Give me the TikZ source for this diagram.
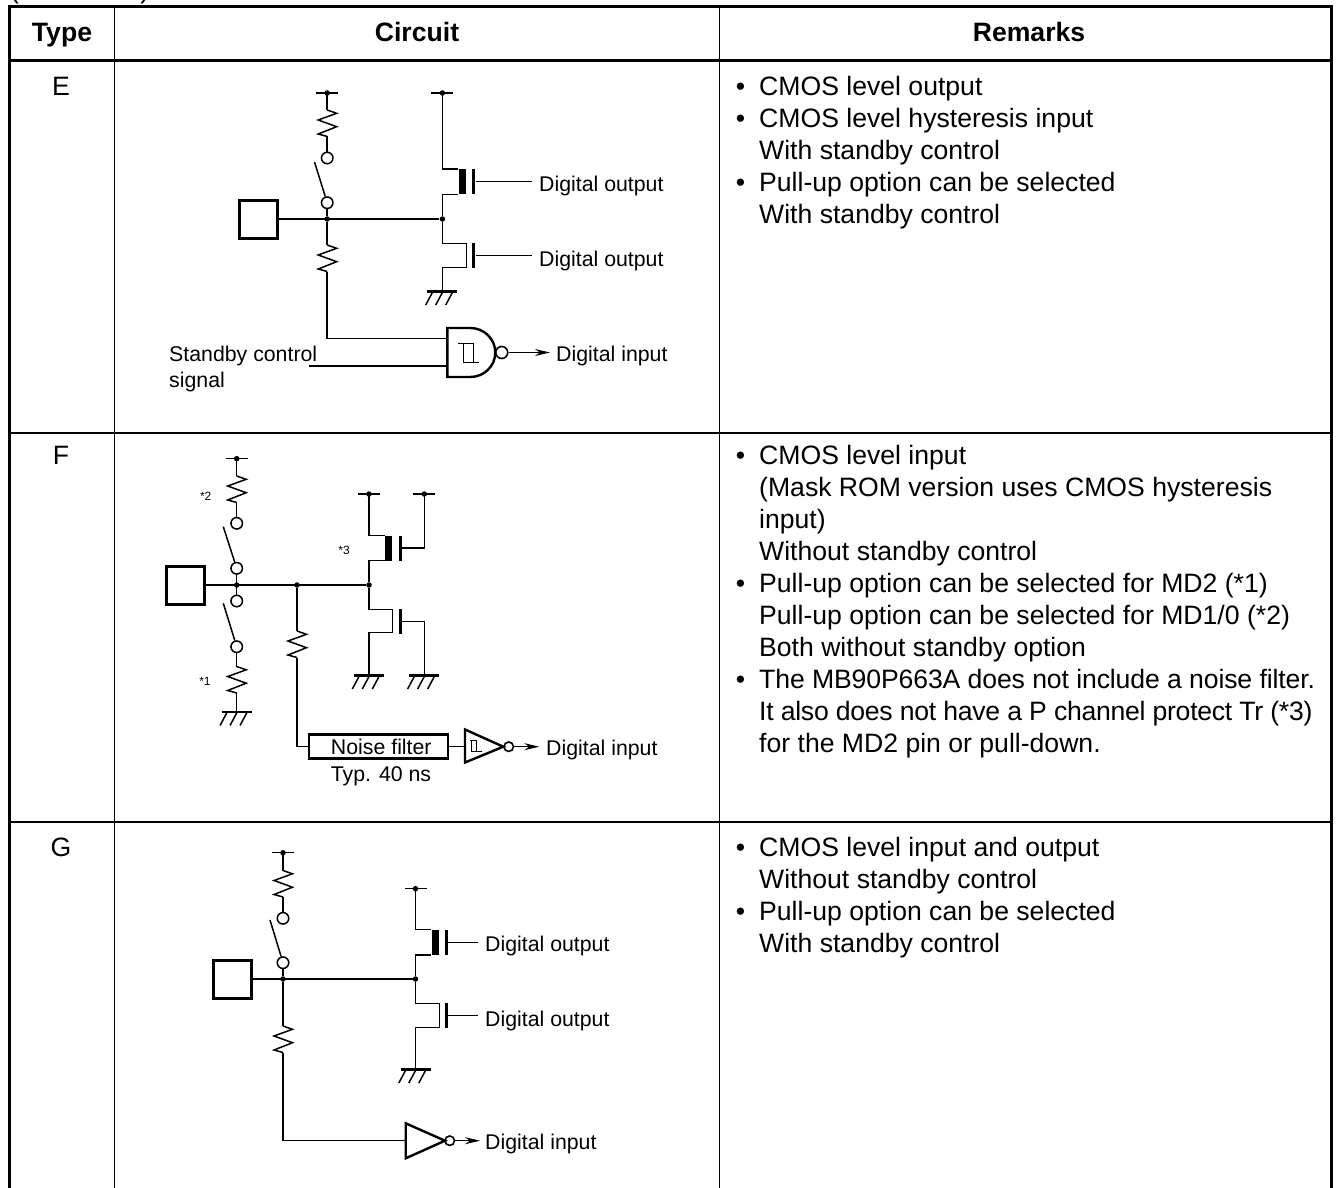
\documentclass[tikz,border=0pt]{standalone}
\usepackage{fontspec}
\setmainfont{Liberation Sans}
\usetikzlibrary{arrows.meta, calc}

\begin{document}
\begin{tikzpicture}[
  x=1pt, y=-1pt,
  frame/.style={line width=3pt, black},
  rule/.style={line width=1.3pt, black},
  wire/.style={line width=1.5pt, line join=miter},
  head/.style={font=\fontsize{26.6}{32}\selectfont\bfseries, anchor=base, inner sep=0pt},
  txt/.style={font=\fontsize{26.6}{32}\selectfont},
  remark/.style={font=\fontsize{26.6}{32}\selectfont, anchor=north west, align=left, inner sep=0pt},
  lab/.style={font=\fontsize{21.3}{26}\selectfont, anchor=base west, inner sep=0pt},
  tiny/.style={font=\fontsize{12}{14}\selectfont, inner sep=0pt},
  pad/.style={rectangle, draw, line width=3pt, fill=white, inner sep=0pt, minimum width=38pt, minimum height=38pt},
  dot/.style={circle, fill=black, inner sep=0pt, minimum size=5.5pt},
  contact/.style={circle, draw, line width=1.5pt, fill=white, inner sep=0pt, minimum size=11.5pt},
  bubble/.style={circle, draw, line width=1.6pt, fill=white, inner sep=0pt, minimum size=#1},
  chan/.style={rectangle, fill=black, inner sep=0pt, minimum width=7.4pt, minimum height=25pt},
  gatebar/.style={rectangle, fill=black, inner sep=0pt, minimum width=3pt, minimum height=25pt},
  gatebody/.style={line width=2.4pt, line join=miter, fill=white},
  filterbox/.style={rectangle, draw, line width=2.6pt, inner sep=0pt, minimum width=139pt, minimum height=24pt, font=\fontsize{21.3}{26}\selectfont},
  arrow/.style={-{Stealth[length=15pt, width=7pt]}, line width=1.5pt},
  pics/resistor/.style={code={
    \draw[wire] (0,0) -- (9.5,3.3) -- (-9,10) -- (9.5,16.7) -- (-9,24) -- (0,26.5);
    \coordinate (-top) at (0,0);
    \coordinate (-bot) at (0,26.5);
  }},
  pics/gnd/.style={code={
    \draw[line width=2.5pt] (-15,0) -- (15,0);
    \draw[wire] (-10,1) -- (-16.7,13.5) (0,1) -- (-6.7,13.5) (10,1) -- (3.3,13.5);
    \coordinate (-top) at (0,0);
  }},
  pics/rail/.style={code={
    \draw[wire] (-11,0) -- (11,0);
    \node[dot] at (0,0) {};
    \coordinate (-pin) at (0,0);
  }}
]
  \useasboundingbox (0,0) rectangle (1338,1188);

  % Table
  \node[txt, anchor=base west, inner sep=0pt] (cont) at (10,-1.5) {(Continued)};
  \coordinate (tl) at (9,7);
  \coordinate (tr) at (1331,7);
  \coordinate (bl) at (9,1188);
  \coordinate (br) at (1331,1188);
  \draw[frame] (bl) -- (tl) -- (tr) -- (br);
  \draw[frame] (9,60.5) -- (1331,60.5);
  \draw[rule] (114.5,7) -- (114.5,1188);
  \draw[rule] (719.5,7) -- (719.5,1188);
  \draw[rule] (9,433) -- (1331,433);
  \draw[rule] (9,822) -- (1331,822);

  \node[head] (htype) at (62,41.5) {Type};
  \node[head] (hcirc) at (417,41.5) {Circuit};
  \node[head] (hrem) at (1029,41.5) {Remarks};
  \node[txt] (te) at (61,86) {E};
  \node[txt] (tf) at (61,455) {F};
  \node[txt] (tg) at (61,847) {G};

  % Remarks
  \node[remark] (re) at (759,76) {\llap{•\hspace{14pt}}CMOS level output\\
    \llap{•\hspace{14pt}}CMOS level hysteresis input\\
    With standby control\\
    \llap{•\hspace{14pt}}Pull-up option can be selected\\
    With standby control};
  \node[remark] (rf) at (759,445) {\llap{•\hspace{14pt}}CMOS level input\\
    (Mask ROM version uses CMOS hysteresis\\
    input)\\
    Without standby control\\
    \llap{•\hspace{14pt}}Pull-up option can be selected for MD2 (*1)\\
    Pull-up option can be selected for MD1/0 (*2)\\
    Both without standby option\\
    \llap{•\hspace{14pt}}{\addfontfeature{LetterSpace=-0.45}The MB90P663A does not include a noise filter.}\\
    {\addfontfeature{LetterSpace=-1.05}It also does not have a P channel protect Tr (*3)}\\
    for the MD2 pin or pull-down.};
  \node[remark] (rg) at (759,837) {\llap{•\hspace{14pt}}CMOS level input and output\\
    Without standby control\\
    \llap{•\hspace{14pt}}Pull-up option can be selected\\
    With standby control};

  % Type E
  \pic (evdda) at (327.2,93) {rail};
  \pic (evddb) at (442.4,93) {rail};
  \pic (era) at (327.2,110) {resistor};
  \pic (erb) at (327.2,245) {resistor};
  \pic (egnd) at (442.4,291.5) {gnd};
  \node[pad] (epad) at (258.8,219) {};
  \node[contact] (eca) at (327.2,158) {};
  \node[contact] (ecb) at (327.2,202.7) {};
  \node[dot] (eja) at (327.2,219) {};
  \node[dot] (ejb) at (442.4,219) {};
  \coordinate (esw) at (314.5,162);
  \node[chan] (echan) at (462.3,181.7) {};
  \node[gatebar] (egp) at (473.8,181.7) {};
  \node[gatebar] (egn) at (473.8,255.3) {};
  \coordinate (enu) at (466.6,243.3);
  \coordinate (enl) at (466.6,267.3);
  \node[lab] (eout) at (539,191) {Digital output};
  \node[lab] (eoutb) at (539,266) {Digital output};
  \node[lab] (ein) at (556,361) {Digital input};
  \node[lab, align=left, anchor=north west] (estb) at (169,346) {Standby control\\signal};
  \coordinate (estbw) at (309.3,366);
  \coordinate (egi) at (447.3,338.3);
  \coordinate (egj) at (447.3,366);
  \coordinate (egt) at (447.3,328);
  \coordinate (egb) at (447.3,377);
  \coordinate (ego) at (495.5,352.5);
  \node[bubble=12pt] (ebub) at (501.7,352.5) {};
  \coordinate (earr) at (550,352.5);

  \draw[wire] (epad) -- (ejb);
  \draw[wire] (evdda-pin) -- (era-top);
  \draw[wire] (era-bot) -- (eca);
  \draw[wire] (esw) -- (ecb);
  \draw[wire] (ecb) -- (eja);
  \draw[wire] (eja) -- (erb-top);
  \draw[wire] (erb-bot) |- (egi);
  \draw[wire] (estbw) -- (egj);
  \draw[wire] (evddb-pin) |- (echan.north west);
  \draw[wire] (echan.south west) -| (ejb);
  \draw[wire] (ejb) |- (enu) -- (enl) -| (egnd-top);
  \draw[wire] (egp) -- ($(eout.base west)+(-7,-9.3)$);
  \draw[wire] (egn) -- ($(eoutb.base west)+(-7,-10.7)$);
  \draw[gatebody] (egb) -- (egt) -- ++(23,0) arc[start angle=-90, end angle=90, x radius=25, y radius=24.5] -- cycle;
  \draw[line width=1pt] (458.3,343.3) -- (473.3,343.3) (463.3,343.3) |- (479,362.3) (473.3,343.3) -- (473.3,362.3);
  \draw[arrow] (ebub) -- (earr);

  % Type F
  \pic (fvdd) at (236.7,458.7) {rail};
  \pic (fvda) at (369,494) {rail};
  \pic (fvdb) at (424.3,494) {rail};
  \pic (fra) at (236.7,476) {resistor};
  \pic (frb) at (236.7,666.5) {resistor};
  \pic (frc) at (297,631) {resistor};
  \pic (fgnd) at (236.7,712) {gnd};
  \pic (fgna) at (369,675.5) {gnd};
  \pic (fgnb) at (424.3,675.5) {gnd};
  \node[pad] (fpad) at (185.3,585) {};
  \node[contact] (fca) at (236.7,523.3) {};
  \node[contact] (fcb) at (236.7,568.3) {};
  \node[contact] (fcc) at (236.7,601) {};
  \node[contact] (fcd) at (236.7,646.7) {};
  \node[dot] (fja) at (236.7,585) {};
  \node[dot] (fjb) at (297,585) {};
  \node[dot] (fjc) at (369,585) {};
  \coordinate (fswa) at (223.3,526.7);
  \coordinate (fswb) at (223.3,603.3);
  \node[chan] (fchan) at (388.7,548) {};
  \node[gatebar] (fgp) at (400,548) {};
  \node[gatebar] (fgn) at (400,621.5) {};
  \coordinate (fnu) at (392.7,609.3);
  \coordinate (fnl) at (392.7,632.7);
  \node[tiny] (fsa) at (205.7,496.7) {*2};
  \node[tiny] (fsb) at (205,681.7) {*1};
  \node[tiny] (fsc) at (344,550.7) {*3};
  \node[filterbox] (fnf) at (378.3,746.7) {\hspace*{6pt}Noise filter};
  \node[lab, anchor=center] (ftyp) at (381,776) {Typ. 40 ns};
  \coordinate (fia) at (465,729.5);
  \coordinate (fib) at (465,762.5);
  \coordinate (fit) at (503.3,746.7);
  \coordinate (fii) at (465,746.7);
  \node[bubble=9.5pt] (fbub) at (508.7,746.7) {};
  \coordinate (farr) at (539.3,746.7);
  \node[lab] (fin) at (546,755) {Digital input};

  \draw[wire] (fpad) -- (fjc);
  \draw[wire] (fvdd-pin) -- (fra-top);
  \draw[wire] (fra-bot) -- (fca);
  \draw[wire] (fswa) -- (fcb);
  \draw[wire] (fcb) -- (fcc);
  \draw[wire] (fswb) -- (fcd);
  \draw[wire] (fcd) -- (frb-top);
  \draw[wire] (frb-bot) -- (fgnd-top);
  \draw[wire] (fjb) -- (frc-top);
  \draw[wire] (frc-bot) |- (fnf.west);
  \draw[wire] (fvda-pin) |- (fchan.north west);
  \draw[wire] (fchan.south west) -| (fjc);
  \draw[wire] (fjc) |- (fnu) -- (fnl) -| (fgna-top);
  \draw[wire] (fgp) -| (fvdb-pin);
  \draw[wire] (fgn) -| (fgnb-top);
  \draw[wire] (fnf.east) -- (fii);
  \draw[gatebody] (fia) -- (fib) -- (fit) -- cycle;
  \draw[line width=1pt] (470,740.7) -- (476.7,740.7) (471.7,740.7) |- (481.7,751) (476.7,740.7) -- (476.7,751);
  \draw[arrow] (fbub) -- (farr);

  % Type G
  \pic (gvdd) at (283,852.7) {rail};
  \pic (gvda) at (415.5,888.7) {rail};
  \pic (gra) at (283,870.5) {resistor};
  \pic (grb) at (283,1026) {resistor};
  \pic (ggnd) at (415.5,1069.5) {gnd};
  \node[pad] (gpad) at (232,979) {};
  \node[contact] (gca) at (283,918.3) {};
  \node[contact] (gcb) at (283,962.7) {};
  \node[dot] (gja) at (283,979) {};
  \node[dot] (gjb) at (415.5,979) {};
  \coordinate (gsw) at (270,920);
  \node[chan] (gchan) at (435.3,942.3) {};
  \node[gatebar] (ggp) at (446.7,942.3) {};
  \node[gatebar] (ggn) at (446.7,1015.7) {};
  \coordinate (gnu) at (439.3,1003.3);
  \coordinate (gnl) at (439.3,1027.7);
  \node[lab] (gout) at (485,951) {Digital output};
  \node[lab] (goutb) at (485,1026) {Digital output};
  \node[lab] (gin) at (485,1149) {Digital input};
  \coordinate (gia) at (405.7,1123.3);
  \coordinate (gib) at (405.7,1158.3);
  \coordinate (git) at (445,1140.7);
  \coordinate (gii) at (405.7,1140.7);
  \node[bubble=9.5pt] (gbub) at (449.7,1140.7) {};
  \coordinate (garr) at (480,1140.7);

  \draw[wire] (gpad) -- (gjb);
  \draw[wire] (gvdd-pin) -- (gra-top);
  \draw[wire] (gra-bot) -- (gca);
  \draw[wire] (gsw) -- (gcb);
  \draw[wire] (gcb) -- (gja);
  \draw[wire] (gja) -- (grb-top);
  \draw[wire] (grb-bot) |- (gii);
  \draw[wire] (gvda-pin) |- (gchan.north west);
  \draw[wire] (gchan.south west) -| (gjb);
  \draw[wire] (gjb) |- (gnu) -- (gnl) -| (ggnd-top);
  \draw[wire] (ggp) -- ($(gout.base west)+(-7,-8.7)$);
  \draw[wire] (ggn) -- ($(goutb.base west)+(-7,-10.3)$);
  \draw[gatebody] (gia) -- (gib) -- (git) -- cycle;
  \draw[arrow] (gbub) -- (garr);
\end{tikzpicture}
\end{document}
